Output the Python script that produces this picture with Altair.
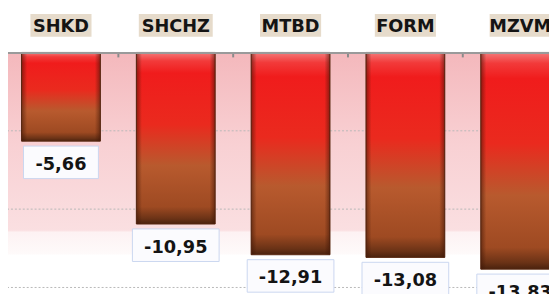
import altair as alt
import pandas as pd

categories = ["SHKD", "SHCHZ", "MTBD", "FORM", "MZVM"]
values = [-5.66, -10.95, -12.91, -13.08, -13.83]
grid_values = [-5, -10, -15]

labels = [f"{v:.2f}".replace(".", ",") for v in values]
df = pd.DataFrame({"cat": categories, "value": values, "label": labels})
grid_df = pd.DataFrame({"g": grid_values})
one = pd.DataFrame({"a": [0]})

W = 549
H = 243
PX_PER_UNIT = 15.9
Y_MIN = -H / PX_PER_UNIT

xscale = alt.Scale(domain=categories, range=[-4.5, 578], paddingInner=0, paddingOuter=0)
yscale = alt.Scale(domain=[Y_MIN, 0], nice=False, zero=False)

X = alt.X(
    "cat:N",
    scale=xscale,
    sort=categories,
    axis=alt.Axis(
        orient="top", title=None, labelFont="DejaVu Sans", labelFontSize=18,
        labelFontWeight="bold", labelColor="#141414", labelPadding=17,
        ticks=False, tickSize=0, domainColor="#9a9a9a", domainWidth=2,
        zindex=1, labelAngle=0, grid=False,
    ),
)
Y = alt.Y("value:Q", scale=yscale, axis=None)

bar_grad = {
    "gradient": "linear", "x1": 0, "y1": 0, "x2": 0, "y2": 1,
    "stops": [
        {"offset": 0.0, "color": "#f47a7a"},
        {"offset": 0.05, "color": "#f23a3a"},
        {"offset": 0.12, "color": "#f01c1c"},
        {"offset": 0.42, "color": "#ea2a1e"},
        {"offset": 0.66, "color": "#b85a2e"},
        {"offset": 0.9, "color": "#9e4a22"},
        {"offset": 0.97, "color": "#6a3216"},
        {"offset": 1.0, "color": "#4a220e"},
    ],
}
edge_grad = {
    "gradient": "linear", "x1": 0, "y1": 0, "x2": 1, "y2": 0,
    "stops": [
        {"offset": 0.0, "color": "rgba(60,20,5,0.55)"},
        {"offset": 0.07, "color": "rgba(60,20,5,0)"},
        {"offset": 0.93, "color": "rgba(60,20,5,0)"},
        {"offset": 1.0, "color": "rgba(60,20,5,0.55)"},
    ],
}
bg_grad = {
    "gradient": "linear", "x1": 0, "y1": 0, "x2": 0, "y2": 1,
    "stops": [
        {"offset": 0.0, "color": "#f4b8bc"},
        {"offset": 0.45, "color": "#f8d0d3"},
        {"offset": 0.88, "color": "#fadfe1"},
        {"offset": 0.89, "color": "#fdf2f3"},
        {"offset": 1.0, "color": "#fefafa"},
    ],
}

bg = alt.Chart(one).mark_rect(fill=bg_grad).encode(
    x=alt.value(0), x2=alt.value(W), y=alt.value(0), y2=alt.value(205)
)

grid = alt.Chart(grid_df).mark_rule(color="#b8b8b8", strokeDash=[2, 2], strokeWidth=1).encode(
    y=alt.Y("g:Q", scale=yscale, axis=None)
)

ticks = alt.Chart(df).mark_rule(color="#8a8a8a", strokeWidth=2).encode(
    x=alt.X("cat:N", scale=xscale, sort=categories, bandPosition=0),
    y=alt.value(0), y2=alt.value(5),
)

cat_boxes = alt.Chart(df).mark_rect(
    fill="#e6dbcb", width=alt.expr("length(datum.cat) * 13 + 10")
).encode(x=X, y=alt.value(-39), y2=alt.value(-16))

bars = alt.Chart(df).mark_bar(width=80, fill=bar_grad, stroke="#5a2a12", strokeWidth=1).encode(x=X, y=Y)
edges = alt.Chart(df).mark_bar(width=80, fill=edge_grad).encode(x=X, y=Y)

boxes = alt.Chart(df).mark_rect(
    height=33, yOffset=21.5, fill="#fbfbfe", stroke="#cad6f0", strokeWidth=1,
    width=alt.expr("length(datum.label) * 12 + 16"),
).encode(x=X, y=Y)

texts = alt.Chart(df).mark_text(
    dy=24, fontSize=18, fontWeight="bold", font="DejaVu Sans", color="#141414", baseline="middle"
).encode(x=X, y=Y, text="label:N")

chart = alt.layer(bg, grid, cat_boxes, bars, edges, ticks, boxes, texts).properties(
    width=W, height=H,
    padding={"left": 0, "top": 43, "right": 0, "bottom": 0},
    autosize=alt.AutoSizeParams(type="none"),
    background="white",
).configure_view(stroke=None)

chart.save("out.html", embed_options={"renderer": "svg", "actions": False})
